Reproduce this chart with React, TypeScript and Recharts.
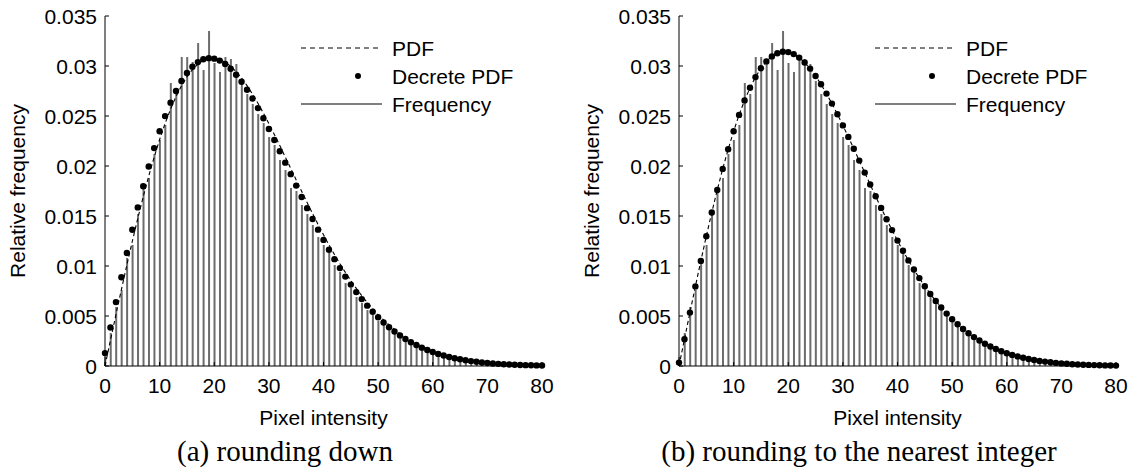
import React from 'react';
import { Bar, ComposedChart, Line, Scatter, XAxis, YAxis } from 'recharts';

// pixel intensity 0..80
const intensity: number[] = Array.from({ length: 81 }, (_, i) => i);

const xTicks = [0, 10, 20, 30, 40, 50, 60, 70, 80];
const yTicks = [0, 0.005, 0.01, 0.015, 0.02, 0.025, 0.03, 0.035];
const yTickLabels = ['0', '0.005', '0.01', '0.015', '0.02', '0.025', '0.03', '0.035'];

const legendLabels = ['PDF', 'Decrete PDF', 'Frequency'];
const captions = ['(a) rounding down', '(b) rounding to the nearest integer'];

// histogram of the image (same in both panels)
const frequency = [
  0.0009, 0.0033, 0.0059, 0.0076, 0.0108, 0.0121, 0.0152, 0.0179, 0.0188, 0.0212,
  0.0226, 0.0241, 0.0283, 0.0272, 0.0309, 0.0309, 0.0304, 0.0323, 0.0296, 0.0335,
  0.0303, 0.0294, 0.0309, 0.0307, 0.0302, 0.0285, 0.0272, 0.0262, 0.0252, 0.0243,
  0.0229, 0.0221, 0.0206, 0.0196, 0.0178, 0.0175, 0.0161, 0.0152, 0.0141, 0.0129,
  0.0121, 0.0113, 0.0101, 0.0094, 0.0083, 0.0078, 0.0069, 0.0063, 0.0056, 0.0051,
  0.0045, 0.0041, 0.0036, 0.0033, 0.0029, 0.0025, 0.0023, 0.002, 0.0017, 0.0016,
  0.0013, 0.0012, 0.001, 0.0009, 0.0008, 0.0006, 0.0006, 0.0004, 0.0004, 0.0003,
  0.0003, 0.0002, 0.0002, 0.0002, 0.0001, 0.0001, 0.0001, 0.0001, 0.00005, 0.00005,
  0.00004,
];

// (a) rounding down
const pdfDown = [
  0, 0.002573, 0.005127, 0.007641, 0.010097, 0.012475, 0.01476, 0.016933, 0.018983, 0.020892,
  0.022652, 0.024249, 0.025684, 0.026942, 0.028023, 0.028924, 0.029644, 0.030186, 0.030552, 0.030748,
  0.03078, 0.030656, 0.030386, 0.029977, 0.029443, 0.028794, 0.028041, 0.027198, 0.026275, 0.025287,
  0.024245, 0.02316, 0.022043, 0.020906, 0.019758, 0.01861, 0.017468, 0.016342, 0.015238, 0.014161,
  0.013118, 0.012114, 0.011151, 0.010233, 0.009361, 0.008536, 0.00776, 0.007034, 0.006356, 0.005726,
  0.005143, 0.004606, 0.004112, 0.003661, 0.00325, 0.002876, 0.002538, 0.002234, 0.00196, 0.001715,
  0.001496, 0.001301, 0.001129, 0.000976, 0.000842, 0.000724, 0.000621, 0.000531, 0.000453, 0.000385,
  0.000327, 0.000277, 0.000233, 0.000196, 0.000165, 0.000138, 0.000115, 0.0000955, 0.0000793, 0.0000656,
  0.0000541,
];
const discreteDown = [
  0.001288, 0.003854, 0.00639, 0.008877, 0.011297, 0.01363, 0.015861, 0.017974, 0.019955, 0.021792,
  0.023469, 0.024988, 0.026335, 0.027505, 0.028496, 0.029306, 0.029937, 0.03039, 0.030671, 0.030785,
  0.030737, 0.030539, 0.030198, 0.029725, 0.029132, 0.028429, 0.027631, 0.026746, 0.025789, 0.024773,
  0.023707, 0.022605, 0.021476, 0.020333, 0.019184, 0.018038, 0.016903, 0.015787, 0.014696, 0.013635,
  0.012611, 0.011627, 0.010687, 0.009791, 0.008942, 0.008142, 0.007391, 0.006689, 0.006035, 0.005429,
  0.004869, 0.004354, 0.003882, 0.003451, 0.003059, 0.002703, 0.002382, 0.002093, 0.001834, 0.001602,
  0.001396, 0.001212, 0.00105, 0.000907, 0.000781, 0.000671, 0.000575, 0.000491, 0.000418, 0.000355,
  0.000301, 0.000254, 0.000214, 0.00018, 0.000151, 0.000126, 0.000105, 0.0000871, 0.0000721, 0.0000596,
  0.0000491,
];

// (b) rounding to the nearest integer
const pdfNearest = [
  0, 0.002681, 0.00534, 0.007957, 0.01051, 0.01298, 0.015348, 0.017596, 0.019709, 0.021672,
  0.023474, 0.025106, 0.02656, 0.027816, 0.02889, 0.029772, 0.030463, 0.030964, 0.031281, 0.031419,
  0.031386, 0.03119, 0.030843, 0.030354, 0.029738, 0.029005, 0.028169, 0.027243, 0.026241, 0.025178,
  0.024062, 0.02291, 0.02173, 0.020537, 0.01934, 0.018148, 0.016969, 0.015812, 0.014684, 0.013591,
  0.012538, 0.011527, 0.010563, 0.009649, 0.008785, 0.007973, 0.007213, 0.006505, 0.005848, 0.005241,
  0.004683, 0.004171, 0.003703, 0.003278, 0.002892, 0.002545, 0.002233, 0.001953, 0.001703, 0.001481,
  0.001283, 0.001109, 0.000956, 0.000821, 0.000704, 0.000601, 0.000512, 0.000435, 0.000368, 0.000311,
  0.000261, 0.000219, 0.000184, 0.000153, 0.000128, 0.000106, 0.0000876, 0.0000723, 0.0000594, 0.0000488,
  0.0000399,
];
const discreteNearest = [
  0.00034, 0.00268, 0.00534, 0.00796, 0.01051, 0.01298, 0.01535, 0.0176, 0.01971, 0.02167,
  0.02347, 0.02511, 0.02656, 0.02782, 0.02889, 0.02977, 0.03046, 0.03096, 0.03128, 0.03142,
  0.03139, 0.03119, 0.03084, 0.03035, 0.02974, 0.029, 0.02817, 0.02724, 0.02624, 0.02518,
  0.02406, 0.02291, 0.02173, 0.02054, 0.01934, 0.01815, 0.01697, 0.01581, 0.01468, 0.01359,
  0.01254, 0.01153, 0.01056, 0.00965, 0.00879, 0.00797, 0.00721, 0.00651, 0.00585, 0.00524,
  0.00468, 0.00417, 0.0037, 0.00328, 0.00289, 0.00255, 0.00223, 0.00195, 0.0017, 0.00148,
  0.00128, 0.00111, 0.00096, 0.00082, 0.0007, 0.0006, 0.00051, 0.00044, 0.00037, 0.00031,
  0.00026, 0.00022, 0.00018, 0.00015, 0.00013, 0.00011, 0.000088, 0.000072, 0.000059, 0.000049,
  0.00004,
];

const SANS = "'Liberation Sans', Arial, Helvetica, sans-serif";
const SERIF = "'Liberation Serif', 'Times New Roman', serif";
const FONT_SIZE = 21;
const STEM = '#6c6c6c';

const YTick = (props: any) => {
  const { x, y, payload } = props;
  const idx = yTicks.indexOf(payload.value);
  return (
    <g>
      <text x={x} y={y} textAnchor="end" dominantBaseline="central" fontFamily={SANS} fontSize={FONT_SIZE} fill="#000">
        {yTickLabels[idx]}
      </text>
      <line x1={x + 8} x2={x + 12} y1={y} y2={y} stroke="#000" strokeWidth={1} />
    </g>
  );
};

const XTick = (props: any) => {
  const { x, y, payload } = props;
  return (
    <g>
      <text x={x} y={y} dy="0.71em" textAnchor="middle" fontFamily={SANS} fontSize={FONT_SIZE} fill="#000">
        {payload.value}
      </text>
      <line x1={x} x2={x} y1={y - 12} y2={y - 16} stroke="#000" strokeWidth={1} />
    </g>
  );
};

const Dot = (props: any) => <circle cx={props.cx} cy={props.cy} r={3.2} fill="#000" />;

interface PanelProps {
  pdf: number[];
  discrete: number[];
  caption: string;
  left: number;
}

const Panel: React.FC<PanelProps> = ({ pdf, discrete, caption, left }) => {
  const rows = intensity.map((k, i) => ({ k, freq: frequency[i], pdf: pdf[i], disc: discrete[i] }));
  return (
    <div style={{ position: 'absolute', left, top: 0, width: 570, height: 476 }}>
      <ComposedChart width={570} height={430} data={rows} margin={{ top: 16, right: 28, bottom: 34, left: 45 }}>
        <XAxis
          dataKey="k"
          type="number"
          domain={[0, 80]}
          ticks={xTicks}
          height={30}
          tickSize={0}
          tickMargin={12}
          tick={<XTick />}
          axisLine={{ stroke: '#000', strokeWidth: 1 }}
          tickLine={false}
        />
        <YAxis
          type="number"
          domain={[0, 0.035]}
          ticks={yTicks}
          width={60}
          tickSize={0}
          tickMargin={8}
          tick={<YTick />}
          axisLine={{ stroke: '#000', strokeWidth: 1 }}
          tickLine={false}
        />
        <Bar dataKey="freq" fill={STEM} barSize={2} isAnimationActive={false} />
        <Line
          dataKey="pdf"
          type="linear"
          stroke="#000"
          strokeWidth={1.1}
          strokeDasharray="4 3"
          dot={false}
          activeDot={false}
          isAnimationActive={false}
        />
        <Scatter dataKey="disc" fill="#000" shape={<Dot />} isAnimationActive={false} />
      </ComposedChart>
      <svg width={570} height={476} style={{ position: 'absolute', left: 0, top: 0, pointerEvents: 'none' }}>
        <text
          x={17}
          y={191}
          transform="rotate(-90 17 191)"
          textAnchor="middle"
          dominantBaseline="central"
          fontFamily={SANS}
          fontSize={FONT_SIZE}
        >
          Relative frequency
        </text>
        <text x={323.5} y={417} textAnchor="middle" dominantBaseline="central" fontFamily={SANS} fontSize={FONT_SIZE}>
          Pixel intensity
        </text>
        {/* legend */}
        <line x1={301} x2={382} y1={48} y2={48} stroke="#000" strokeWidth={1} strokeDasharray="5 4" />
        <circle cx={358} cy={76} r={3} fill="#000" />
        <line x1={301} x2={382} y1={104} y2={104} stroke="#000" strokeWidth={1.2} />
        {legendLabels.map((t, i) => (
          <text key={t} x={392} y={48 + i * 28} dominantBaseline="central" fontFamily={SANS} fontSize={FONT_SIZE}>
            {t}
          </text>
        ))}
        <text x={285} y={461} textAnchor="middle" fontFamily={SERIF} fontSize={29}>
          {caption}
        </text>
      </svg>
    </div>
  );
}

export default function App() {
  return (
    <div style={{ position: 'absolute', left: 0, top: 0, width: 1139, height: 476, background: '#fff' }}>
      <Panel pdf={pdfDown} discrete={discreteDown} caption={captions[0]} left={0} />
      <Panel pdf={pdfNearest} discrete={discreteNearest} caption={captions[1]} left={574} />
    </div>
  );
}
